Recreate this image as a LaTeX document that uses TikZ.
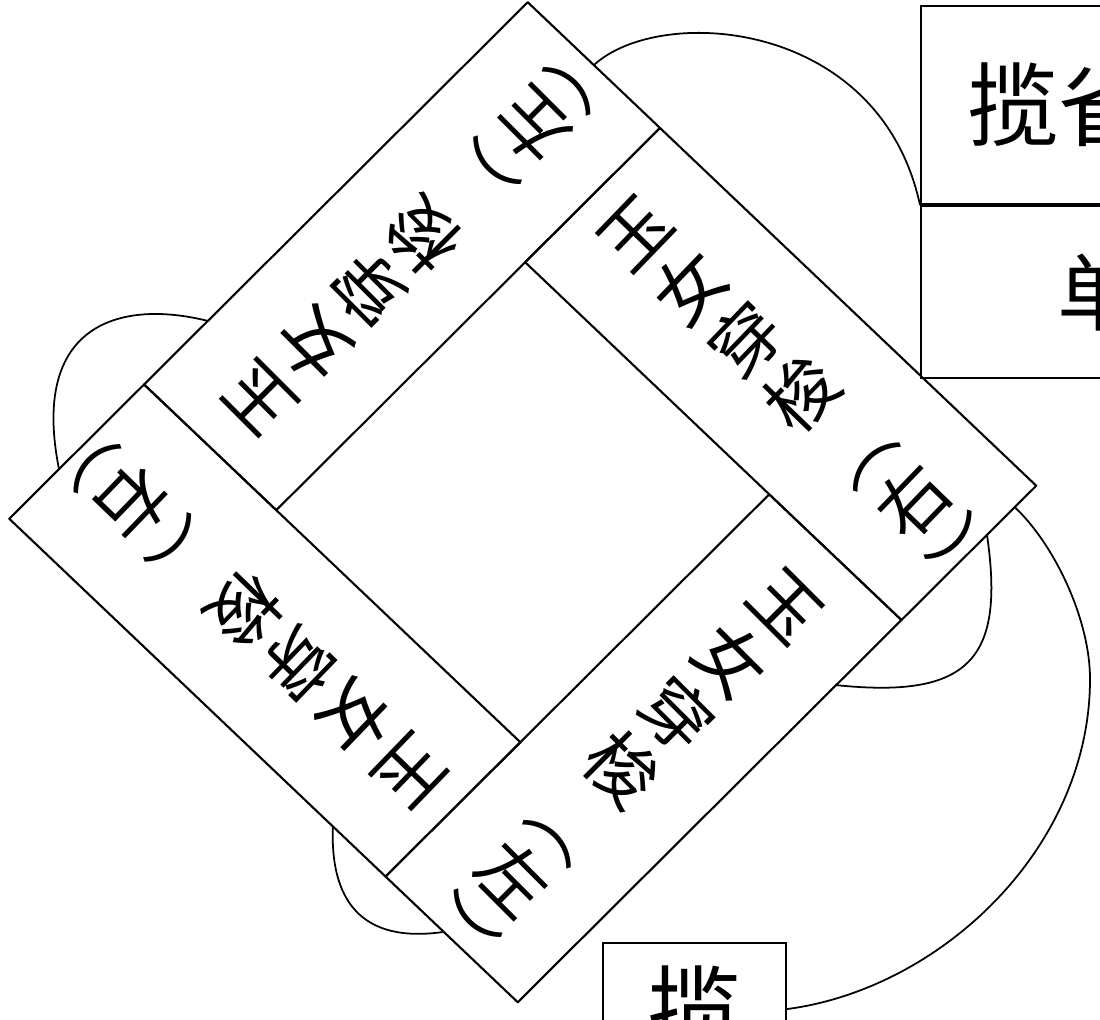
\documentclass[tikz,border=0pt]{standalone}
\usepackage{fontspec}
\newfontfamily\cjk{Noto Sans CJK SC}
\usepackage{tikz}
\usetikzlibrary{calc}

\begin{document}
\begin{tikzpicture}[line width=0.6pt,
  band/.style={draw, line join=round},
  vtxt/.style={align=center, inner sep=0pt, font=\cjk\fontsize{20}{22}\selectfont},
  cell/.style={draw, anchor=north west, align=left, inner ysep=0pt},
  link/.style={line width=0.5pt}]

\useasboundingbox (0,0) rectangle (11,10.19);
\clip (0,0) rectangle (11,10.19);

% Frame, in its own slanted square
\begin{scope}[shift={(5.2275,5.1675)}, x={(2.5925cm,2.5825cm)}, y={(-2.5425cm,2.4175cm)}]
% Outer corners
\coordinate (T) at (1,1);
\coordinate (R) at (1,-1);
\coordinate (B) at (-1,-1);
\coordinate (L) at (-1,1);
% Band ends
\coordinate (PLT) at (-0.48,1);
\coordinate (PTR) at (1,0.48);
\coordinate (PRB) at (0.48,-1);
\coordinate (PBL) at (-1,-0.48);
% Inner corners
\coordinate (IL) at (-0.48,0.48);
\coordinate (IT) at (0.48,0.48);
\coordinate (IR) at (0.48,-0.48);
\coordinate (IB) at (-0.48,-0.48);

% Bands
\draw[band] (PLT) -- (T) -- (PTR) -- (IL) -- cycle;
\draw[band] (PTR) -- (R) -- (PRB) -- (IT) -- cycle;
\draw[band] (PRB) -- (B) -- (PBL) -- (IR) -- cycle;
\draw[band] (PBL) -- (L) -- (PLT) -- (IB) -- cycle;

% Band labels
\node[vtxt, rotate=135] (b1) at (0.34,0.74) {玉\\女\\穿\\梭\\︵\\左\\︶};
\node[vtxt, rotate=46] (b2) at (0.74,-0.34) {玉\\女\\穿\\梭\\︵\\右\\︶};
\node[vtxt, rotate=-45] (b3) at (-0.34,-0.74) {玉\\女\\穿\\梭\\︵\\左\\︶};
\node[vtxt, rotate=226] (b4) at (-0.74,0.34) {玉\\女\\穿\\梭\\︵\\右\\︶};

% Curve ends on the bands
\coordinate (c1) at (1,0.74);
\coordinate (c2) at (0.917,-1);
\coordinate (c3) at (0.81,-1);
\coordinate (c4) at (0.228,-1);
\coordinate (c5) at (-0.234,1);
\coordinate (c6) at (-0.808,1);
\coordinate (c7) at (-1,-0.273);
\coordinate (c8) at (-1,-0.709);
\end{scope}

% Table at top right
\node[cell, minimum width=3.8cm, minimum height=1.98cm, text width=3cm, inner xsep=0.46cm,
  font=\cjk\fontsize{26}{28}\selectfont] (r1) at (9.20,10.14) {揽雀尾};
\node[cell, minimum width=3.8cm, minimum height=1.72cm, text width=2.4cm, inner xsep=1.36cm,
  font=\cjk\fontsize{24}{26}\selectfont] (r2) at (r1.south west) {单鞭};

% Box at bottom
\node[draw, anchor=north west, minimum width=1.83cm, minimum height=1.32cm,
  font=\cjk\fontsize{27}{30}\selectfont] (lz) at (6.02,0.77) {揽};

% Connections
\draw[link] (c1) .. controls (6.6,10.15) and (8.8,10.0) .. (r1.south west);
\draw[link] (c2) .. controls (10.54,4.75) and (10.9,4.0) .. (10.9,3.4)
  .. controls (10.9,1.7) and (9.4,0.3) .. (lz.east);
\draw[link] (c3) .. controls (10.05,3.6) and (9.7,3.2) .. (c4);
\draw[link] (c5) .. controls (1.2,7.2) and (0.3,6.95) .. (c6);
\draw[link] (c7) .. controls (3.3,1.2) and (3.6,0.75) .. (c8);
\end{tikzpicture}
\end{document}
